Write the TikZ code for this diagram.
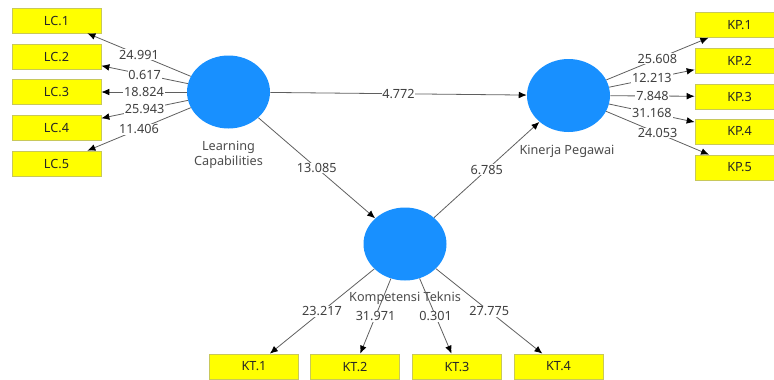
\documentclass[tikz,border=0pt]{standalone}
\usepackage{fontspec}
\setmainfont{Noto Sans}
\usetikzlibrary{shapes.geometric,arrows.meta}
\definecolor{lvblue}{RGB}{24,144,255}
\definecolor{mvyellow}{RGB}{255,255,0}
\definecolor{mvborder}{RGB}{200,200,90}
\definecolor{conngray}{RGB}{95,95,95}

\begin{document}
\begin{tikzpicture}[x=0.75pt,y=-0.75pt,
    every node/.style={font=\fontsize{9.5}{11.25}\selectfont},
    latent/.style={ellipse,fill=lvblue,minimum width=62.25pt,
        minimum height=54.75pt,inner sep=0pt},
    indicator/.style={rectangle,fill=mvyellow,draw=mvborder,line width=0.5pt,
        minimum width=66.75pt,minimum height=18.75pt,inner sep=0pt,text=black!85},
    lvname/.style={align=center,text=black!70},
    conn/.style={draw=conngray,line width=0.6pt,
        -{Latex[length=6pt,width=5pt,black]}},
    coef/.style={fill=white,inner sep=0.6pt,midway,text=black!75},
    ]
	\useasboundingbox (0,0) rectangle (774,379);
	\clip (0,0) rectangle (774,379);
	% latent variables
	\node[latent] (LC) at (228.5,92) {};
	\node[latent] (KP) at (568.5,95.5) {};
	\node[latent] (KT) at (405,244) {};
	\node[lvname] (LCname) at (228.5,154.5) {Learning\\Capabilities};
	\node[lvname] (KPname) at (567,151) {Kinerja Pegawai};
	\node[lvname] (KTname) at (405,298) {Kompetensi Teknis};
	% indicators
	\node[indicator] (LC1) at (56.5,20.5) {LC.1};
	\node[indicator] (LC2) at (56.5,56.5) {LC.2};
	\node[indicator] (LC3) at (56.5,92) {LC.3};
	\node[indicator] (LC4) at (56.5,127.5) {LC.4};
	\node[indicator] (LC5) at (56.5,163.5) {LC.5};
	\node[indicator] (KP1) at (739.5,25) {KP.1};
	\node[indicator] (KP2) at (739.5,60.5) {KP.2};
	\node[indicator] (KP3) at (739.5,96.5) {KP.3};
	\node[indicator] (KP4) at (739.5,131.5) {KP.4};
	\node[indicator] (KP5) at (739.5,167.5) {KP.5};
	\node[indicator] (KT1) at (254,366.5) {KT.1};
	\node[indicator] (KT2) at (355,366.5) {KT.2};
	\node[indicator] (KT3) at (457,366.5) {KT.3};
	\node[indicator] (KT4) at (558.5,366.5) {KT.4};
	% outer loadings
	\draw[conn] (LC) -- (LC1) node[coef] {24.991};
	\draw[conn] (LC) -- (LC2) node[coef] {0.617};
	\draw[conn] (LC) -- (LC3) node[coef] {18.824};
	\draw[conn] (LC) -- (LC4) node[coef] {25.943};
	\draw[conn] (LC) -- (LC5) node[coef] {11.406};
	\draw[conn] (KP) -- (KP1) node[coef] {25.608};
	\draw[conn] (KP) -- (KP2) node[coef] {12.213};
	\draw[conn] (KP) -- (KP3) node[coef] {7.848};
	\draw[conn] (KP) -- (KP4) node[coef] {31.168};
	\draw[conn] (KP) -- (KP5) node[coef] {24.053};
	\draw[conn] (KT) -- (KT1) node[coef] {23.217};
	\draw[conn] (KT) -- (KT2) node[coef] {31.971};
	\draw[conn] (KT) -- (KT3) node[coef] {0.301};
	\draw[conn] (KT) -- (KT4) node[coef] {27.775};
	% inner model
	\draw[conn] (LC) -- (KP) node[coef] {4.772};
	\draw[conn] (LC) -- (KT) node[coef] {13.085};
	\draw[conn] (KT) -- (KP) node[coef] {6.785};
\end{tikzpicture}
\end{document}
